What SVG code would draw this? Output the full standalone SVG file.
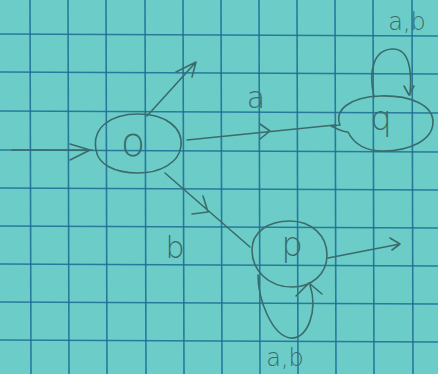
<svg xmlns="http://www.w3.org/2000/svg" width="438" height="374" viewBox="0 0 438 374">
<style>
.grid line{stroke:#1d6c95;stroke-width:1.6;opacity:0.85}
.pen{fill:none;stroke:#3b6b6b;stroke-width:1.6;stroke-linecap:round;stroke-linejoin:round}
.lbl{font-family:"DejaVu Sans",sans-serif;fill:#3b6b6b;font-weight:300}
</style>
<rect width="438" height="374" fill="#6ccdc8"/>
<g class="grid">
<line x1="30" y1="0" x2="31" y2="374"/><line x1="68" y1="0" x2="69" y2="374"/><line x1="106" y1="0" x2="107" y2="374"/><line x1="145" y1="0" x2="146" y2="374"/><line x1="183" y1="0" x2="184" y2="374"/><line x1="221" y1="0" x2="222" y2="374"/><line x1="259" y1="0" x2="260" y2="374"/><line x1="297" y1="0" x2="298" y2="374"/><line x1="335" y1="0" x2="336" y2="374"/><line x1="373" y1="0" x2="374" y2="374"/><line x1="412" y1="0" x2="413" y2="374"/>
<line x1="0" y1="34" x2="438" y2="36"/><line x1="0" y1="72" x2="438" y2="74"/><line x1="0" y1="111" x2="438" y2="113"/><line x1="0" y1="150" x2="438" y2="152"/><line x1="0" y1="188" x2="438" y2="190"/><line x1="0" y1="226" x2="438" y2="228"/><line x1="0" y1="264" x2="438" y2="266"/><line x1="0" y1="302" x2="438" y2="304"/><line x1="0" y1="340" x2="438" y2="342"/>
</g>
<g id="node-o">
<path class="pen" d="M96,150 C92,128 110,114 138,114 C166,114 183,128 181,146 C179,163 160,173 138,173 C114,173 98,164 96,150 Z"/>
<text class="lbl" x="133" y="156" font-size="40" text-anchor="middle">o</text>
</g>
<g id="node-q">
<path class="pen" d="M340,125 C334,110 350,97 380,96 C410,95 433,105 433,122 C433,140 410,151 383,151 C360,151 352,140 348,132 C342,132 336,128 331,126 L340,125"/>
<text class="lbl" x="381" y="130" font-size="34" text-anchor="middle">q</text>
</g>
<g id="node-p">
<path class="pen" d="M252,250 C252,232 268,221 290,221 C312,221 327,236 327,255 C327,274 312,287 292,287 C268,287 252,270 252,250 Z"/>
<text class="lbl" x="292" y="256" font-size="34" text-anchor="middle">p</text>
</g>
<g id="connectors">
<path class="pen" d="M12,150 L92,150 M70,144 L90,150 L70,160"/>
<path class="pen" d="M147,116 L196,62 M176,72 L196,62 L192,77"/>
<path class="pen" d="M187,140 L335,125 M260,124 L270,131 L260,139"/>
<path class="pen" d="M165,173 L250,247 M203,196 L208,212 L192,214"/>
<path class="pen" d="M328,258 L400,244 M390,238 L400,244 L392,250"/>
<path class="pen" d="M374,97 C368,70 374,50 392,49 C410,48 412,72 410,95 M404,86 L409,95 L414,86"/>
<path class="pen" d="M258,275 C258,300 272,335 290,338 C308,340 318,310 310,285 M296,296 L309,283 L322,294"/>
</g>
<g id="labels">
<text class="lbl" x="256" y="108" font-size="30" text-anchor="middle">a</text>
<text class="lbl" x="175" y="258" font-size="30" text-anchor="middle">b</text>
<text class="lbl" x="407" y="30" font-size="24" text-anchor="middle">a,b</text>
<text class="lbl" x="285" y="366" font-size="24" text-anchor="middle">a,b</text>
</g>
</svg>
